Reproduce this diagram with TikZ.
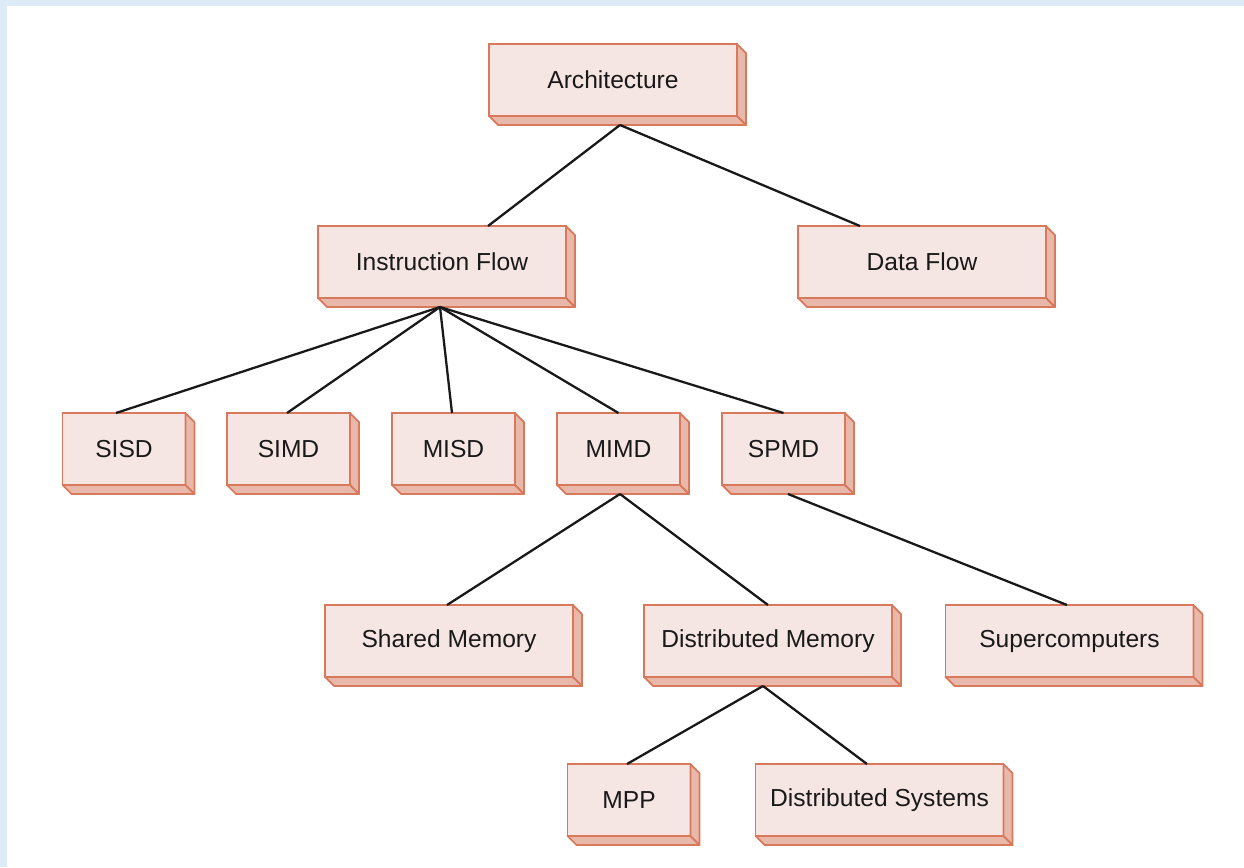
\documentclass[tikz,border=0pt]{standalone}
\usepackage{fontspec}
\setmainfont{Liberation Sans}
\usetikzlibrary{calc}
\definecolor{boxfront}{HTML}{F6E6E3}
\definecolor{boxside}{HTML}{E8B8AA}
\definecolor{boxline}{HTML}{D8795C}
\definecolor{bgblue}{HTML}{DDEBF6}

\begin{document}
\begin{tikzpicture}[x=0.02cm, y=-0.02cm]
\tikzstyle{block}=[draw=boxline,fill=boxfront,line width=1pt,outer sep=0pt,inner sep=0pt,minimum height=1.44cm,text=black!90,font=\fontsize{14}{16}\selectfont]
\tikzstyle{wideblock}=[block,minimum width=4.96cm]
\tikzstyle{smallblock}=[block,minimum width=2.46cm]
\tikzstyle{depth}=[draw=boxline,fill=boxside,line width=1pt,line join=round]
\tikzstyle{link}=[draw=black!90,line width=1.3pt]
% background
\fill[bgblue] (0,0) rectangle (1244,867);
\fill[white] (7,6) rectangle (1244,867);
\useasboundingbox (0,0) rectangle (1244,867);

\node[wideblock]  (arch)    at (613,80)    {Architecture};
\node[wideblock]  (instr)   at (442,262)   {Instruction Flow};
\node[wideblock]  (data)    at (922,262)   {Data Flow};
\node[smallblock] (sisd)    at (124,449)   {SISD};
\node[smallblock] (simd)    at (288.5,449) {SIMD};
\node[smallblock] (misd)    at (453.5,449) {MISD};
\node[smallblock] (mimd)    at (618.5,449) {MIMD};
\node[smallblock] (spmd)    at (783.5,449) {SPMD};
\node[wideblock]  (shared)  at (449,641)   {Shared Memory};
\node[wideblock]  (distmem) at (768,641)   {Distributed Memory};
\node[wideblock]  (super)   at (1069.5,641) {Supercomputers};
\node[smallblock] (mpp)     at (629,800)   {MPP};
\node[wideblock]  (distsys) at (879.5,800) {Distributed Systems};

% side and bottom faces
\foreach \n in {arch,instr,data,sisd,simd,misd,mimd,spmd,shared,distmem,super,mpp,distsys}{
  \path[depth] (\n.north east) -- ++(9,9) -- ([shift={(9,9)}]\n.south east) -- (\n.south east) -- cycle;
  \path[depth] (\n.south west) -- ++(9,9) -- ([shift={(9,9)}]\n.south east) -- (\n.south east) -- cycle;
}

\path
 ([shift={(7,9)}]arch.south) edge[link] ([shift={(46,0)}]instr.north)
    edge[link] ([shift={(-62,0)}]data.north)
 ([shift={(-2,9)}]instr.south) edge[link] ([shift={(-8,0)}]sisd.north)
    edge[link] ([shift={(-1.5,0)}]simd.north)
    edge[link] ([shift={(-1.5,0)}]misd.north)
    edge[link] (mimd.north)
    edge[link] (spmd.north)
 ([shift={(1.5,9)}]mimd.south) edge[link] ([shift={(-2,0)}]shared.north)
    edge[link] (distmem.north)
 ([shift={(4.5,9)}]spmd.south) edge[link] ([shift={(-2.5,0)}]super.north)
 ([shift={(-5,9)}]distmem.south) edge[link] ([shift={(-2,0)}]mpp.north)
    edge[link] ([shift={(-12.5,0)}]distsys.north);
\end{tikzpicture}
\end{document}
